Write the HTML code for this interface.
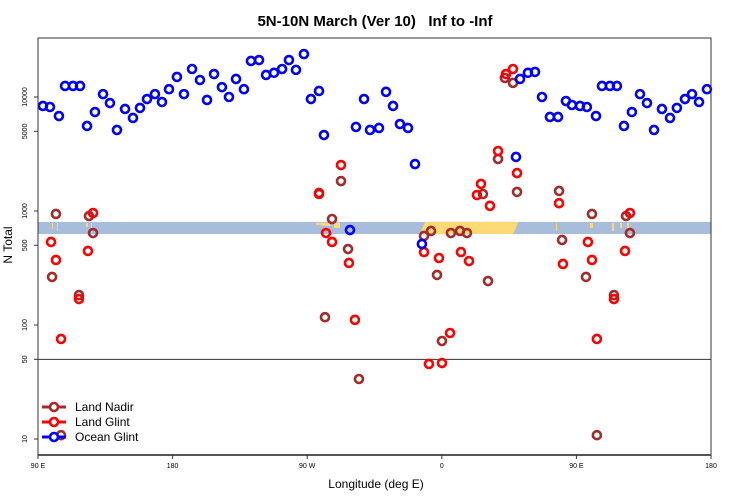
<!DOCTYPE html>
<html><head><meta charset="utf-8"><style>
body{margin:0;background:#fff;}
svg{display:block;font-family:"Liberation Sans",sans-serif;}
</style></head><body>
<svg id="chart" width="750" height="500">
<text x="375" y="26" text-anchor="middle" font-size="15" font-weight="bold" style="white-space:pre" xml:space="preserve">5N-10N March (Ver 10)   Inf to -Inf</text>
<text x="376" y="488" text-anchor="middle" font-size="12">Longitude (deg E)</text>
<text transform="translate(12,245) rotate(-90)" text-anchor="middle" font-size="12">N Total</text>
<g id="band"></g>
<g id="grid"></g>
<g id="marks"></g>
<g id="axes"></g>
<g id="legend"></g>
</svg>
<script>
const xTicks=[90,180,270,360,450,540];
const xTickLabels=["90 E","180","90 W","0","90 E","180"];
const yTicks=[10,50,100,500,1000,5000,10000];
const bandRange=[628,802];
const nadirLon=[99.4,102.0,117.4,124.1,126.8,105.4,277.9,281.9,286.6,292.6,297.3,304.6,348.1,352.8,356.8,360.1,366.1,372.2,376.8,387.5,390.9,397.6,410.3,402.2,407.6,438.4,440.4,456.4,460.4,463.7,475.1,483.2,485.8];
const nadirVal=[264,942,183,904,641,10.8,1440,117,851,1830,464,33.6,604,668,275,72.4,641,668,641,1410,243,2860,1470,14700,13300,1500,557,264,942,10.8,183,904,641];
const glintLon=[98.7,102.0,105.4,117.4,123.4,126.8,277.9,282.6,286.6,292.6,297.9,301.9,348.1,351.4,358.1,360.1,365.5,372.8,378.2,383.5,386.2,392.2,397.6,402.9,407.6,410.3,438.4,441.0,457.7,460.4,463.7,475.1,482.5,485.8];
const glintVal=[535,372,75.4,169,446,960,1410,641,535,2530,350,111,436,45.5,387,46.4,85.1,436,364,1380,1730,1110,3360,15900,17600,2150,1170,343,535,372,75.4,169,446,960];
const oceanLon=[93.3,98.0,104.0,108.1,113.4,118.1,122.8,128.1,133.5,138.1,142.8,148.2,153.5,158.2,162.9,168.2,172.9,177.6,182.9,187.6,193.0,198.3,203.0,207.7,213.0,217.7,222.4,227.7,232.4,237.8,242.5,247.8,253.2,257.8,262.5,267.8,272.5,277.9,281.2,298.6,302.6,308.0,312.0,318.0,322.7,327.4,332.0,337.4,342.1,346.7,409.6,412.3,417.6,422.3,427.0,432.3,437.7,443.0,447.0,452.4,457.0,463.1,467.1,472.4,477.1,481.8,487.1,492.5,497.2,501.9,507.2,512.6,517.2,522.6,527.3,532.0,537.3];
const oceanVal=[8340,8170,6810,12500,12500,12500,5570,7380,10600,8850,5140,7850,6550,8020,9600,10600,9040,11700,15000,10600,17600,14100,9420,15900,12200,10000,14400,11700,20700,21100,15600,16300,17600,21100,17300,23800,9600,11300,4640,681,5460,9600,5140,5350,11100,8340,5790,5350,2580,514,2980,14400,16300,16600,10000,6680,6680,9220,8510,8340,8170,6810,12500,12500,12500,5570,7380,10600,8850,5140,7850,6550,8020,9600,10600,9040,11700];

const L=38,R=711,T=38,B=455;
const X=v=>L+(v-90)*(R-L)/450;
const Y=v=>439-(Math.log10(v)-1)*114;
const NS="http://www.w3.org/2000/svg";
function mk(tag,attrs,parent){const e=document.createElementNS(NS,tag);for(const k in attrs)e.setAttribute(k,attrs[k]);parent.appendChild(e);return e;}
const band=document.getElementById('band'),grid=document.getElementById('grid'),marks=document.getElementById('marks'),axes=document.getElementById('axes'),legend=document.getElementById('legend');
const yb1=Y(bandRange[1]),yb0=Y(bandRange[0]);
mk('rect',{x:L,y:yb1,width:R-L,height:yb0-yb1,fill:'#a7bddb'},band);
const land=mk('path',{d:`M${X(345.5)},${yb0} Q${X(348)},${yb1+2} ${X(349)},${yb1} L${X(411)},${yb1} Q${X(409.5)},${yb0-4} ${X(407.5)},${yb0} Z`,fill:'#fed976'},band);


[[52,1,6],[57,1,8],[86,2,4],[91,1,10],[316,6,2],[322,8,3],[334,6,5],[556,1,8],[590,3,5],[612,2,8],[620,2,5],[627,2,7]].forEach(s=>{mk('rect',{x:s[0],y:yb1+1,width:s[1],height:s[2],fill:'#fed976'},band);});
const l50=mk('line',{x1:L,x2:R,y1:Y(50),y2:Y(50),stroke:'#333','stroke-width':1},grid);


const fr=mk('rect',{x:L,y:T,width:R-L,height:B-T,fill:'none',stroke:'#333','stroke-width':1},axes);


mk('line',{x1:L,x2:R,y1:B,y2:B,stroke:'#555','stroke-width':2},axes);
xTicks.forEach((t,i)=>{
 mk('line',{x1:X(t),x2:X(t),y1:B,y2:B+4,stroke:'#333'},axes);
 const tx=mk('text',{x:X(t),y:B+13,'text-anchor':'middle','font-size':7},axes);
 tx.textContent=xTickLabels[i];
 
 
});
yTicks.forEach(t=>{
 mk('line',{x1:L-4,x2:L,y1:Y(t),y2:Y(t),stroke:'#333'},axes);
 const tx=mk('text',{transform:`translate(${L-11},${Y(t)}) rotate(-90)`,'text-anchor':'middle','font-size':7},axes);
 tx.textContent=t;
 
 
});
function series(lons,vals,color,name){
 const g=mk('g',{},marks);
 
 
 lons.forEach((lo,i)=>{
  const c=mk('circle',{cx:X(lo),cy:Y(vals[i]),r:4,fill:'none',stroke:color,'stroke-width':2.6},g);
  
  
 });
}
series(nadirLon,nadirVal,'#a52a2a','land-nadir');
series(glintLon,glintVal,'#ff0000','land-glint');
series(oceanLon,oceanVal,'#0000ff','ocean-glint');
[["Land Nadir","#a52a2a",407],["Land Glint","#ff0000",422],["Ocean Glint","#0000ff",437]].forEach(d=>{
 const g=mk('g',{},legend);
 
 
 mk('line',{x1:42,x2:66,y1:d[2],y2:d[2],stroke:d[1],'stroke-width':3},g);
 mk('circle',{cx:54,cy:d[2],r:4,fill:'#fff',stroke:d[1],'stroke-width':2.6},g);
 const t=mk('text',{x:75,y:d[2]+4,'font-size':12},g);
 t.textContent=d[0];
});
</script>
</body></html>
